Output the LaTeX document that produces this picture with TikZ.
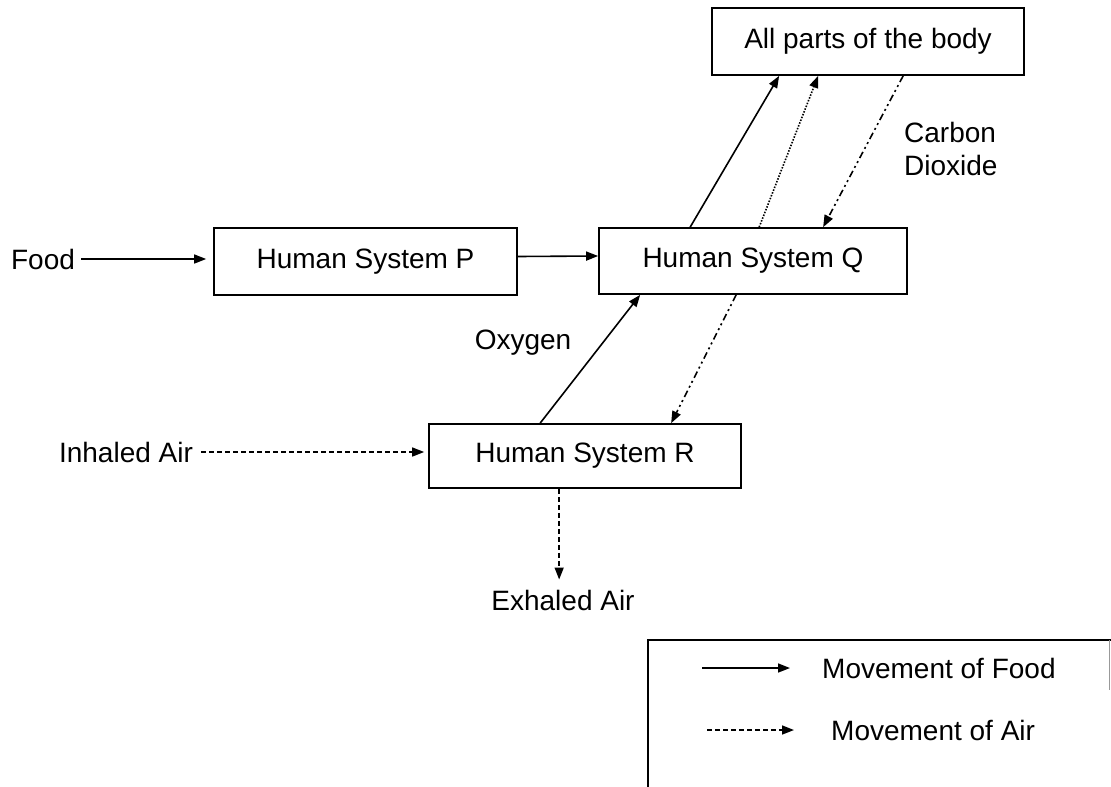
\documentclass[tikz,border=0pt]{standalone}
\usepackage{fontspec}
\setmainfont{Liberation Sans}
\usetikzlibrary{arrows.meta,calc}
\tikzset{
  sysbox/.style={draw, line width=1.7pt, inner sep=0pt, font=\fontsize{28}{32}\selectfont},
  lbl/.style={inner sep=0pt, font=\fontsize{28}{33}\selectfont},
  conn/.style={line width=1.6pt, -{Triangle[length=12pt,width=9pt]}},
  foodline/.style={conn},
  airline/.style={conn, dash pattern=on 5pt off 3pt},
  dotline/.style={conn, dash pattern=on 1.5pt off 1.5pt},
  cotwo/.style={conn, dash pattern=on 7pt off 3.5pt on 2pt off 3.5pt on 2pt off 3.5pt},
}
\begin{document}
\begin{tikzpicture}[x=1pt,y=-1pt]
\useasboundingbox (0,0) rectangle (1111,787);
% boxes
\node[sysbox, minimum width=312pt, minimum height=67pt] (top) at (868,41.5) {All parts of the body};
\node[sysbox, minimum width=303pt, minimum height=67pt] (P) at (365.5,261.5) {Human System P};
\node[sysbox, minimum width=308pt, minimum height=66pt] (Q) at (753,261) {Human System Q};
\node[sysbox, minimum width=312pt, minimum height=64pt] (R) at (585,456) {Human System R};
% labels
\node[lbl] (food) at (43,259) {Food};
\node[lbl] (inh) at (126,452) {Inhaled Air};
\node[lbl] (exh) at (563,600) {Exhaled Air};
\node[lbl] (oxy) at (523,343) {Oxygen};
\node[lbl, anchor=west, align=left] (co2) at (904,149) {Carbon\\Dioxide};
% connectors
\draw[foodline, shorten <=6pt, shorten >=7pt] (food.east) -- (food.east -| P.west);
\draw[foodline] ([yshift=5pt]P.east) -- ([yshift=5pt]Q.west);
\draw[foodline] ($(Q.north west)+(92,0)$) -- ($(top.south west)+(68,0)$);
\draw[dotline] ($(Q.north west)+(161,0)$) -- ($(top.south west)+(107,0)$);
\draw[cotwo] ($(top.south west)+(192,0)$) -- ($(Q.north west)+(225,0)$);
\draw[foodline] ($(R.north west)+(112,0)$) -- ($(Q.south west)+(42,0)$);
\draw[cotwo] ($(Q.south west)+(138,0)$) -- ($(R.north west)+(243,0)$);
\draw[airline, shorten <=8pt, shorten >=4pt] (inh.east) -- (inh.east -| R.west);
\coordinate (exs) at ($(R.south west)+(131,0)$);
\draw[airline, shorten >=10pt] (exs) -- (exs |- exh.north);
% legend
\coordinate (lfa) at (702,668);
\coordinate (lfb) at (790,668);
\coordinate (laa) at (707,730);
\coordinate (lab) at (794,730);
\draw[line width=1.7pt] (1111,640) -- (648,640) -- (648,787);
\draw[line width=0.6pt, black!40] (1109,640) -- (1109,690);
\draw[foodline] (lfa) -- (lfb);
\draw[airline] (laa) -- (lab);
\node[lbl, anchor=west] (lgf) at (822,668) {Movement of Food};
\node[lbl, anchor=west] (lga) at (831,730) {Movement of Air};
\end{tikzpicture}
\end{document}
